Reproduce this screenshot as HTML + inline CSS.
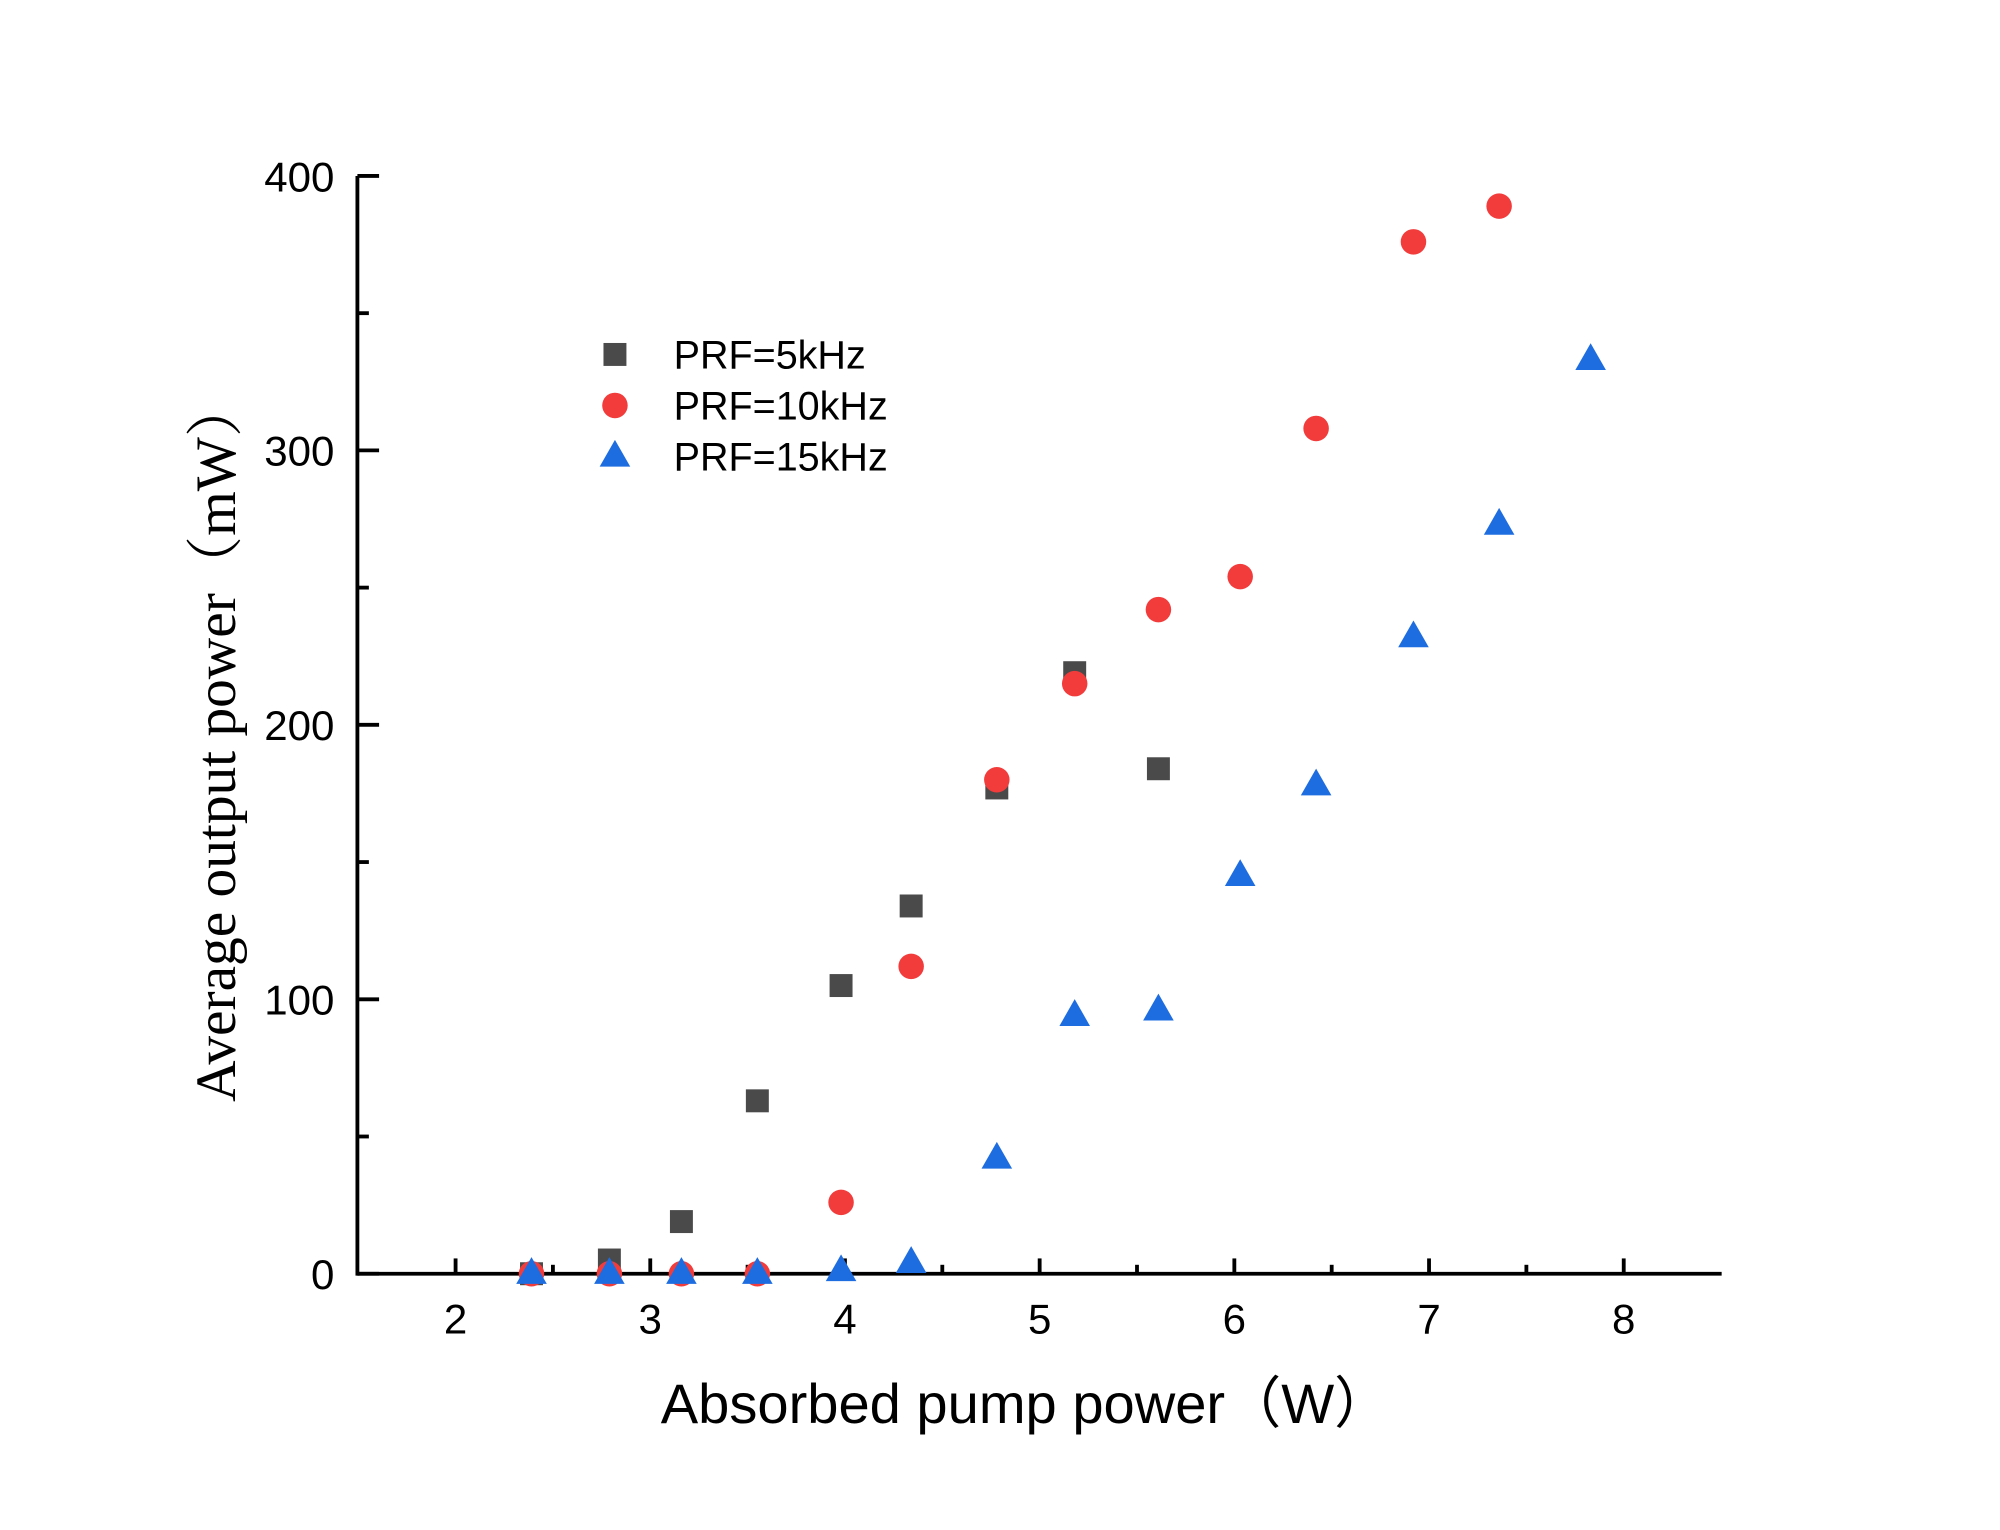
<!DOCTYPE html>
<html><head><meta charset="utf-8"><style>html,body{margin:0;padding:0;background:#fff}svg{display:block}</style></head>
<body>
<svg id="chart" width="2000" height="1530" viewBox="0 0 1568 1200" xmlns="http://www.w3.org/2000/svg" font-family="'Liberation Sans', sans-serif">
<g id="axes"></g>
<g id="marks"></g>
<g id="legend"></g>
<text x="804" y="1116" font-size="44" text-anchor="middle" font-family="'Liberation Sans','Noto Sans CJK SC',sans-serif">Absorbed pump power（W）</text>
<text transform="translate(184,581) rotate(-90)" font-size="45" text-anchor="middle" font-family="'Liberation Serif','Noto Serif CJK SC',serif">Average output power（mW）</text>
</svg>
<script>
const xPump = [2.39,2.79,3.16,3.55,3.98,4.34,4.78,5.18,5.61,6.03,6.42,6.92,7.36,7.83];
const prf5 = [0,5,19,63,105,134,177,219,184];
const prf10 = [0,0,0,0,26,112,180,215,242,254,308,376,389];
const prf15 = [0,0,0,0,1,4,42,94,96,145,178,232,273,333];
const xTicks = [2,3,4,5,6,7,8];
const yTicks = [0,100,200,300,400];
const seriesNames = ["PRF=5kHz","PRF=10kHz","PRF=15kHz"];

const NS="http://www.w3.org/2000/svg";
const X0=280,X1=1350,Y0=999;
const sx=v=>357+(v-2)*152.7;
const sy=v=>Y0-v*2.1525;
function mk(tag,attrs,parent){const e=document.createElementNS(NS,tag);for(const k in attrs)e.setAttribute(k,attrs[k]);parent.appendChild(e);return e;}
const axes=document.getElementById('axes');
let e;
e=mk('line',{x1:X0,y1:Y0,x2:X1,y2:Y0,stroke:'#000','stroke-width':3},axes);


e=mk('line',{x1:X0,y1:Y0+1.5,x2:X0,y2:sy(400),stroke:'#000','stroke-width':3},axes);


for(const t of xTicks){
 e=mk('line',{x1:sx(t),y1:Y0,x2:sx(t),y2:Y0-12,stroke:'#000','stroke-width':3},axes);
 
 
 e=mk('text',{x:sx(t),y:Y0+47,'font-size':33,'text-anchor':'middle'},axes);e.textContent=t;
 
 
 if(t<8){e=mk('line',{x1:sx(t+0.5),y1:Y0,x2:sx(t+0.5),y2:Y0-7,stroke:'#000','stroke-width':3},axes);
 
 }
}
for(const t of yTicks){
 e=mk('line',{x1:X0,y1:sy(t),x2:X0+17,y2:sy(t),stroke:'#000','stroke-width':3},axes);
 
 
 e=mk('text',{x:X0-18,y:sy(t)+12,'font-size':33,'text-anchor':'end'},axes);e.textContent=t;
 
 
 if(t<400){e=mk('line',{x1:X0,y1:sy(t+50),x2:X0+9,y2:sy(t+50),stroke:'#000','stroke-width':3},axes);
 
 }
}
const marks=document.getElementById('marks');
const colors=['#4a4a4a','#f23c3c','#1e6de0'];
function marker(type,cx,cy,parent){
 if(type===0)return mk('rect',{x:cx-9,y:cy-9,width:18,height:18,fill:colors[0]},parent);
 if(type===1)return mk('circle',{cx:cx,cy:cy,r:10,fill:colors[1]},parent);
 return mk('polygon',{points:`${cx},${cy-13} ${cx-12},${cy+8} ${cx+12},${cy+8}`,fill:colors[2]},parent);
}
[prf5,prf10,prf15].forEach((arr,s)=>{arr.forEach((v,i)=>{
 const m=marker(s,sx(xPump[i]),sy(v),marks);
 
 
});});
const legend=document.getElementById('legend');
seriesNames.forEach((n,i)=>{
 const y=278+i*40;
 const m=marker(i,482,y,legend);
 
 
 const t=mk('text',{x:528,y:y+11,'font-size':31},legend);t.textContent=n;
 
 
});
</script>
</body></html>
